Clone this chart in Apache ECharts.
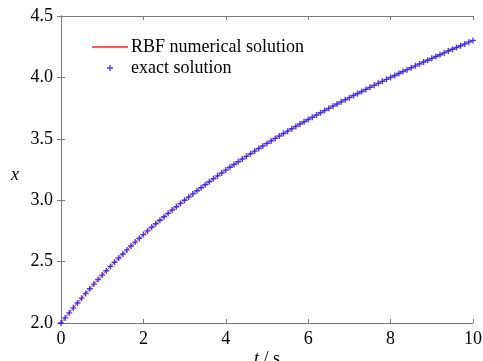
<!DOCTYPE html>
<html>
<head>
<meta charset="utf-8">
<script src="https://cdn.jsdelivr.net/npm/echarts@6/dist/echarts.min.js"></script>
<style>
  html, body { margin: 0; padding: 0; background: #fff; }
  #chart { width: 483px; height: 361px; }
</style>
</head>
<body>
<div id="chart"></div>
<script>
// time samples, 0..10 s every 0.1 s
const tValues = [
  0.0, 0.1, 0.2, 0.3, 0.4, 0.5, 0.6, 0.7, 0.8, 0.9,
  1.0, 1.1, 1.2, 1.3, 1.4, 1.5, 1.6, 1.7, 1.8, 1.9,
  2.0, 2.1, 2.2, 2.3, 2.4, 2.5, 2.6, 2.7, 2.8, 2.9,
  3.0, 3.1, 3.2, 3.3, 3.4, 3.5, 3.6, 3.7, 3.8, 3.9,
  4.0, 4.1, 4.2, 4.3, 4.4, 4.5, 4.6, 4.7, 4.8, 4.9,
  5.0, 5.1, 5.2, 5.3, 5.4, 5.5, 5.6, 5.7, 5.8, 5.9,
  6.0, 6.1, 6.2, 6.3, 6.4, 6.5, 6.6, 6.7, 6.8, 6.9,
  7.0, 7.1, 7.2, 7.3, 7.4, 7.5, 7.6, 7.7, 7.8, 7.9,
  8.0, 8.1, 8.2, 8.3, 8.4, 8.5, 8.6, 8.7, 8.8, 8.9,
  9.0, 9.1, 9.2, 9.3, 9.4, 9.5, 9.6, 9.7, 9.8, 9.9,
  10.0
];

// exact solution markers
const exactX = [
  2.0000, 2.0417, 2.0828, 2.1233, 2.1632, 2.2025, 2.2412, 2.2793, 2.3168, 2.3537,
  2.3900, 2.4257, 2.4608, 2.4953, 2.5292, 2.5625, 2.5952, 2.6273, 2.6588, 2.6897,
  2.7200, 2.7498, 2.7792, 2.8082, 2.8368, 2.8650, 2.8928, 2.9202, 2.9472, 2.9738,
  3.0000, 3.0259, 3.0514, 3.0767, 3.1016, 3.1263, 3.1506, 3.1747, 3.1984, 3.2219,
  3.2450, 3.2679, 3.2905, 3.3129, 3.3350, 3.3569, 3.3785, 3.3999, 3.4210, 3.4419,
  3.4625, 3.4829, 3.5031, 3.5231, 3.5429, 3.5625, 3.5819, 3.6011, 3.6201, 3.6389,
  3.6575, 3.6759, 3.6942, 3.7123, 3.7303, 3.7481, 3.7658, 3.7833, 3.8007, 3.8179,
  3.8350, 3.8520, 3.8688, 3.8856, 3.9022, 3.9188, 3.9352, 3.9516, 3.9678, 3.9840,
  4.0000, 4.0160, 4.0318, 4.0476, 4.0632, 4.0788, 4.0942, 4.1096, 4.1248, 4.1400,
  4.1550, 4.1700, 4.1849, 4.1997, 4.2144, 4.2291, 4.2437, 4.2583, 4.2727, 4.2871,
  4.3015
];

// RBF solution overlaps the exact one at this scale
const rbfX = exactX.slice();

const xTicks = [0, 2, 4, 6, 8, 10];
const yTicks = [2.0, 2.5, 3.0, 3.5, 4.0, 4.5];

const FONT = "'Liberation Serif', 'Times New Roman', 'DejaVu Serif', serif";
const AXIS_GREY = '#7a7a7a';
const PLUS = 'path://M0,2.3H6V3.7H0Z M2.3,0H3.7V6H2.3Z';
const DASH = 'path://M0,0H36V1.3H0Z';

const chart = echarts.init(document.getElementById('chart'), null, { renderer: 'canvas' });

const tickStyle = { show: true, inside: true, length: 4, lineStyle: { color: AXIS_GREY } };
const lineStyle = { show: true, lineStyle: { color: AXIS_GREY, width: 1 } };

chart.setOption({
  animation: false,
  backgroundColor: '#fff',
  textStyle: { fontFamily: FONT },
  grid: { left: 61, right: 10, top: 16, bottom: 38, outerBoundsMode: 'none', containLabel: false },
  legend: {
    left: 92,
    top: 38,
    padding: 0,
    orient: 'vertical',
    itemWidth: 36,
    itemHeight: 6,
    itemGap: 3,
    textStyle: { fontFamily: FONT, fontSize: 18, color: '#000', padding: [0, 0, 0, -2] },
    data: [
      { name: 'RBF numerical solution', icon: DASH },
      { name: 'exact solution' }
    ]
  },
  xAxis: [
    {
      type: 'value', min: 0, max: 10, interval: 2,
      axisLine: lineStyle, axisTick: tickStyle, splitLine: { show: false },
      axisLabel: {
        fontFamily: FONT, fontSize: 18, color: '#000', margin: 7,
        formatter: v => xTicks.includes(v) ? String(v) : ''
      },
      name: '{i|t} / s',
      nameLocation: 'middle',
      nameGap: 27,
      nameMoveOverlap: false,
      nameTextStyle: {
        fontFamily: FONT, fontSize: 18, color: '#000',
        rich: { i: { fontFamily: FONT, fontSize: 18, fontStyle: 'italic', color: '#000' } }
      }
    },
    {
      type: 'value', position: 'top', min: 0, max: 10, interval: 2,
      axisLine: lineStyle, axisTick: tickStyle, axisLabel: { show: false }, splitLine: { show: false }
    }
  ],
  yAxis: [
    {
      type: 'value', min: 2, max: 4.5, interval: 0.5,
      axisLine: lineStyle, axisTick: tickStyle, splitLine: { show: false },
      axisLabel: {
        fontFamily: FONT, fontSize: 18, color: '#000', margin: 8,
        formatter: v => yTicks.some(t => Math.abs(t - v) < 1e-9) ? v.toFixed(1) : ''
      },
      name: 'x',
      nameLocation: 'middle',
      nameRotate: 0,
      nameGap: 42,
      nameMoveOverlap: false,
      nameTextStyle: {
        fontFamily: FONT, fontSize: 18, fontStyle: 'italic', color: '#000',
        verticalAlign: 'top', lineHeight: 12
      }
    },
    {
      type: 'value', position: 'right', min: 2, max: 4.5, interval: 0.5,
      axisLine: lineStyle, axisTick: tickStyle, axisLabel: { show: false }, splitLine: { show: false }
    }
  ],
  series: [
    {
      name: 'RBF numerical solution',
      type: 'line',
      symbol: 'none',
      data: tValues.map((t, i) => [t, rbfX[i]]),
      lineStyle: { color: '#ff2020', width: 1 },
      itemStyle: { color: '#ff2020' },
      z: 2
    },
    {
      name: 'exact solution',
      type: 'scatter',
      symbol: PLUS,
      symbolSize: 6,
      data: tValues.map((t, i) => [t, exactX[i]]),
      itemStyle: { color: '#1010ff' },
      z: 3
    }
  ]
});

window.addEventListener('resize', () => chart.resize());
</script>
</body>
</html>
